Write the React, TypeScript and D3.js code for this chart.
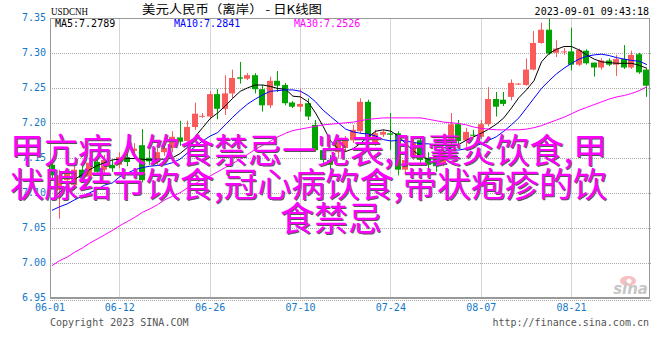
import React from "react";
import * as d3 from "d3";

const WIDTH = 660;
const HEIGHT = 360;
const MARGIN = { LEFT: 50, RIGHT: 10, TOP: 18.5, BOTTOM: 61.5 };
const RED = "#fa5a5a";
const GREEN = "#00a400";
const AXIS_BLUE = "#1478c8";
const MONO = "'DejaVu Sans Mono', monospace";
const CJK = "'Noto Sans CJK SC', sans-serif";

// trading days, Mon-Sat, 2023-06-01 .. 2023-09-01
const dates = d3.utcDay
  .range(new Date(Date.UTC(2023, 5, 1)), new Date(Date.UTC(2023, 8, 2)))
  .filter((d) => d.getUTCDay() !== 0)
  .map(d3.utcFormat("%m-%d"));

const open = [
  7.141, 7.105, 7.119, 7.112, 7.134, 7.124, 7.145, 7.134, 7.141, 7.141,
  7.152, 7.161, 7.169, 7.151, 7.145, 7.159, 7.165, 7.18, 7.175, 7.195,
  7.21, 7.21, 7.242, 7.221, 7.243, 7.266, 7.264, 7.269, 7.249, 7.226,
  7.261, 7.255, 7.23, 7.224, 7.229, 7.198, 7.162, 7.148, 7.159, 7.165,
  7.176, 7.189, 7.231, 7.172, 7.184, 7.186, 7.186, 7.134, 7.153, 7.176,
  7.151, 7.151, 7.143, 7.174, 7.199, 7.176, 7.184, 7.181, 7.199, 7.235,
  7.234, 7.238, 7.256, 7.255, 7.277, 7.315, 7.334, 7.301, 7.302, 7.303,
  7.284, 7.304, 7.287, 7.28, 7.29, 7.284, 7.292, 7.28, 7.299, 7.277,
];
const high = [
  7.145, 7.134, 7.136, 7.141, 7.139, 7.151, 7.152, 7.155, 7.148, 7.159,
  7.162, 7.172, 7.192, 7.162, 7.172, 7.175, 7.189, 7.204, 7.204, 7.23,
  7.215, 7.246, 7.249, 7.269, 7.277, 7.288, 7.272, 7.272, 7.255, 7.267,
  7.275, 7.258, 7.232, 7.249, 7.236, 7.205, 7.165, 7.155, 7.179, 7.182,
  7.198, 7.236, 7.234, 7.191, 7.191, 7.215, 7.189, 7.155, 7.176, 7.182,
  7.159, 7.155, 7.165, 7.215, 7.205, 7.194, 7.191, 7.205, 7.252, 7.245,
  7.245, 7.263, 7.258, 7.293, 7.332, 7.344, 7.35, 7.319, 7.308, 7.337,
  7.307, 7.306, 7.287, 7.293, 7.293, 7.298, 7.312, 7.304, 7.301, 7.279,
];
const low = [
  7.122, 7.064, 7.112, 7.105, 7.116, 7.119, 7.126, 7.129, 7.131, 7.136,
  7.139, 7.152, 7.116, 7.141, 7.141, 7.154, 7.159, 7.168, 7.172, 7.191,
  7.208, 7.206, 7.206, 7.212, 7.236, 7.257, 7.262, 7.243, 7.217, 7.222,
  7.245, 7.226, 7.222, 7.217, 7.205, 7.16, 7.141, 7.134, 7.151, 7.159,
  7.172, 7.186, 7.179, 7.168, 7.181, 7.162, 7.126, 7.126, 7.148, 7.144,
  7.136, 7.131, 7.139, 7.168, 7.169, 7.165, 7.181, 7.178, 7.196, 7.21,
  7.225, 7.233, 7.255, 7.254, 7.276, 7.314, 7.298, 7.295, 7.298, 7.276,
  7.282, 7.284, 7.267, 7.277, 7.282, 7.268, 7.278, 7.278, 7.271, 7.238,
];
const close = [
  7.126, 7.126, 7.131, 7.134, 7.122, 7.144, 7.131, 7.148, 7.136, 7.152,
  7.145, 7.164, 7.119, 7.146, 7.159, 7.165, 7.181, 7.174, 7.195, 7.214,
  7.211, 7.242, 7.221, 7.243, 7.265, 7.264, 7.269, 7.249, 7.226, 7.261,
  7.254, 7.229, 7.224, 7.228, 7.21, 7.162, 7.148, 7.141, 7.174, 7.176,
  7.191, 7.231, 7.181, 7.186, 7.188, 7.184, 7.134, 7.148, 7.172, 7.148,
  7.141, 7.139, 7.16, 7.199, 7.175, 7.188, 7.183, 7.199, 7.235, 7.224,
  7.228, 7.258, 7.257, 7.277, 7.315, 7.334, 7.3, 7.307, 7.303, 7.284,
  7.305, 7.286, 7.28, 7.29, 7.284, 7.292, 7.28, 7.298, 7.273, 7.254,
];
const ma5 = [
  7.091, 7.102, 7.111, 7.12, 7.127, 7.134, 7.14, 7.144, 7.148, 7.149,
  7.15, 7.15, 7.149, 7.148, 7.149, 7.149, 7.151, 7.157, 7.166, 7.181,
  7.194, 7.207, 7.215, 7.225, 7.236, 7.246, 7.251, 7.255, 7.255, 7.253,
  7.25, 7.249, 7.239, 7.238, 7.231, 7.215, 7.196, 7.175, 7.164, 7.16,
  7.164, 7.172, 7.181, 7.189, 7.191, 7.189, 7.182, 7.171, 7.161, 7.153,
  7.149, 7.152, 7.159, 7.165, 7.17, 7.176, 7.181, 7.186, 7.192, 7.199,
  7.208, 7.222, 7.237, 7.248, 7.261, 7.288, 7.3, 7.306, 7.31, 7.31,
  7.305, 7.298, 7.292, 7.288, 7.287, 7.286, 7.286, 7.286, 7.283, 7.2789,
];
const ma10 = [
  7.076, 7.081, 7.085, 7.091, 7.096, 7.101, 7.106, 7.112, 7.115, 7.124,
  7.129, 7.134, 7.137, 7.139, 7.14, 7.141, 7.144, 7.149, 7.158, 7.167,
  7.175, 7.182, 7.187, 7.198, 7.209, 7.219, 7.228, 7.235, 7.241, 7.246,
  7.247, 7.248, 7.248, 7.246, 7.24, 7.231, 7.219, 7.21, 7.201, 7.192,
  7.188, 7.186, 7.185, 7.182, 7.177, 7.175, 7.176, 7.175, 7.173, 7.171,
  7.171, 7.168, 7.166, 7.163, 7.162, 7.164, 7.167, 7.171, 7.176, 7.181,
  7.189, 7.198, 7.208, 7.222, 7.236, 7.25, 7.261, 7.271, 7.279, 7.286,
  7.292, 7.296, 7.298, 7.299, 7.297, 7.294, 7.292, 7.29, 7.289, 7.2841,
];
const ma30 = [
  6.997, 7.004, 7.009, 7.016, 7.022, 7.029, 7.035, 7.041, 7.047, 7.054,
  7.06, 7.066, 7.073, 7.078, 7.084, 7.091, 7.096, 7.101, 7.108, 7.114,
  7.12, 7.125, 7.131, 7.137, 7.143, 7.149, 7.156, 7.163, 7.169, 7.175,
  7.181, 7.186, 7.19, 7.192, 7.194, 7.196, 7.198, 7.199, 7.2, 7.201,
  7.202, 7.204, 7.206, 7.207, 7.208, 7.208, 7.208, 7.208, 7.208, 7.208,
  7.206, 7.204, 7.202, 7.201, 7.2, 7.198, 7.195, 7.193, 7.192, 7.191,
  7.191, 7.191, 7.191, 7.192, 7.194, 7.197, 7.201, 7.205, 7.209, 7.214,
  7.219, 7.223, 7.227, 7.231, 7.235, 7.238, 7.24, 7.243, 7.247, 7.2526,
];

const tickLabels = ["06-01", "06-12", "06-26", "07-10", "07-24", "08-07", "08-21"];
const priceTicks = [7.35, 7.3, 7.25, 7.2, 7.15, 7.1, 7.05, 7.0, 6.95];
const maSeries = [
  { name: "MA5", values: ma5, color: "#000000" },
  { name: "MA10", values: ma10, color: "#0000ff" },
  { name: "MA30", values: ma30, color: "#ff00ff" },
];
const overlayLines = [
  "甲亢病人饮食禁忌一览表,胆囊炎饮食,甲",
  "状腺结节饮食,冠心病饮食,带状疱疹的饮",
  "食禁忌",
];

const crisp = (v: number) => Math.round(v - 0.5) + 0.5;

const App = () => {
  const left = MARGIN.LEFT;
  const right = WIDTH - MARGIN.RIGHT;
  const top = MARGIN.TOP;
  const bottom = HEIGHT - MARGIN.BOTTOM;

  const x = d3.scalePoint<string>().domain(dates).range([52, 646.9]);
  const y = d3.scaleLinear().domain([6.95, 7.35]).range([bottom, top]);

  const tickX = (label: string, i: number) => (i === 0 ? left : x(label)!);

  const lineGen = (values: number[]) =>
    d3
      .line<number>()
      .x((_, i) => x(dates[i])!)
      .y((v) => y(v))(values) || "";

  const lastMa = (values: number[]) => values[values.length - 1].toFixed(4);

  // the last (short) line is centred, full lines start at the left
  const overlayX = (i: number) => (i === overlayLines.length - 1 ? 331 : 10);
  const overlayAnchor = (i: number) => (i === overlayLines.length - 1 ? "middle" : "start");

  return (
    <svg
      width={WIDTH}
      height={HEIGHT}
      style={{ position: "absolute", left: 0, top: 0, background: "#fff" }}
    >
      {/* grid */}
      <g stroke="#aaa" strokeDasharray="1,1" strokeWidth={1}>
        {priceTicks.slice(1, -1).map((p) => (
          <line key={p} x1={left} x2={right + 1} y1={crisp(y(p))} y2={crisp(y(p))} />
        ))}
        {tickLabels.slice(1).map((t) => (
          <line key={t} x1={crisp(x(t)!)} x2={crisp(x(t)!)} y1={top} y2={bottom} />
        ))}
        <line x1={left} x2={right + 1} y1={crisp(bottom) + 2} y2={crisp(bottom) + 2} />
      </g>

      {/* candles */}
      {dates.map((d, i) => {
        const cx = crisp(x(d)!);
        const up = close[i] >= open[i];
        const color = up ? RED : GREEN;
        const yTop = y(Math.max(open[i], close[i]));
        const yBot = y(Math.min(open[i], close[i]));
        return (
          <g key={d}>
            <line x1={cx} x2={cx} y1={y(high[i])} y2={y(low[i])} stroke={color} />
            <rect
              x={cx - 3.5}
              y={yTop}
              width={6}
              height={Math.max(1, yBot - yTop)}
              fill={color}
            />
          </g>
        );
      })}

      {/* moving averages */}
      {maSeries.map((s) => (
        <path key={s.name} d={lineGen(s.values)} fill="none" stroke={s.color} strokeWidth={1} />
      ))}

      {/* frame */}
      <g stroke="#999" fill="none">
        <rect
          x={left + 0.5}
          y={crisp(top)}
          width={right - left - 1}
          height={crisp(bottom) - crisp(top)}
          strokeWidth={1}
        />
        <line x1={left} x2={right} y1={crisp(bottom) - 0.5} y2={crisp(bottom) - 0.5} strokeWidth={2} />
      </g>

      {/* price labels */}
      <g fontFamily={MONO} fontSize={10} fill={AXIS_BLUE} textAnchor="end">
        {priceTicks.map((p) => (
          <text key={p} x={left - 4} y={y(p) + 2.5}>
            {p.toFixed(2)}
          </text>
        ))}
      </g>

      {/* date labels */}
      <g fontFamily={MONO} fontSize={10} fill={AXIS_BLUE} textAnchor="middle">
        {tickLabels.map((t, i) => (
          <text key={t} x={tickX(t, i)} y={311}>
            {t}
          </text>
        ))}
      </g>

      {/* header */}
      <text x={51} y={15} fontFamily="'Liberation Serif', serif" fontSize={10} textLength={37} lengthAdjust="spacingAndGlyphs">
        USDCNH
      </text>
      <text x={142} y={14} fontFamily={CJK} fontSize={12} textLength={180} lengthAdjust="spacingAndGlyphs">
        美元人民币（离岸） - 日K线图
      </text>
      <text x={649} y={15} fontFamily={MONO} fontSize={10} textAnchor="end">
        2023-09-01 09:43:18
      </text>
      <g fontFamily={MONO} fontSize={10}>
        {maSeries.map((s, i) => (
          <text key={s.name} x={[55, 174, 294][i]} y={27} fill={s.color}>
            {`${s.name}:${lastMa(s.values)}`}
          </text>
        ))}
      </g>

      {/* footer */}
      <text x={50} y={326} fontFamily={MONO} fontSize={10} fill="#555">
        Copyright 2023 SINA.COM
      </text>
      <text x={649} y={326} fontFamily={MONO} fontSize={10} fill="#555" textAnchor="end">
        http://finance.sina.com.cn
      </text>

      {/* sina watermark */}
      <g opacity={0.55}>
        <ellipse cx={628} cy={281} rx={8} ry={5} fill="#f08a8a" />
        <circle cx={629} cy={281} r={2.5} fill="#fff" />
        <text x={648} y={294} fontFamily="'DejaVu Sans', sans-serif" fontSize={15} fontWeight="bold" fontStyle="italic" fill="#999" textAnchor="end">
          sina
        </text>
      </g>

      {/* overlay title */}
      <g fontFamily={CJK} fontSize={34}>
        {overlayLines.map((t, i) => (
          <g key={i} textAnchor={overlayAnchor(i)}>
            <text x={overlayX(i) + 1} y={163 + i * 34 + 1} fill="#555">
              {t}
            </text>
            <text x={overlayX(i)} y={163 + i * 34} fill="#ff00ff">
              {t}
            </text>
          </g>
        ))}
      </g>
    </svg>
  );
};

export default App;
